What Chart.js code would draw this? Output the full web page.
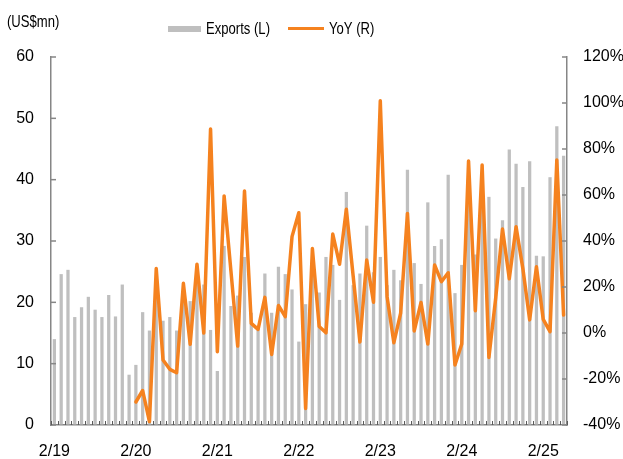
<!DOCTYPE html>
<html><head><meta charset="utf-8">
<script src="https://cdn.jsdelivr.net/npm/chart.js@4/dist/chart.umd.min.js"></script>
<style>html,body{margin:0;padding:0;background:#fff;}#wrap{width:623px;height:459px;}</style>
</head><body><div id="wrap"><canvas id="c" width="623" height="459"></canvas></div>
<script>
const categories = [
 "2/19","3/19","4/19","5/19","6/19","7/19","8/19","9/19","10/19","11/19","12/19",
 "1/20","2/20","3/20","4/20","5/20","6/20","7/20","8/20","9/20","10/20","11/20","12/20",
 "1/21","2/21","3/21","4/21","5/21","6/21","7/21","8/21","9/21","10/21","11/21","12/21",
 "1/22","2/22","3/22","4/22","5/22","6/22","7/22","8/22","9/22","10/22","11/22","12/22",
 "1/23","2/23","3/23","4/23","5/23","6/23","7/23","8/23","9/23","10/23","11/23","12/23",
 "1/24","2/24","3/24","4/24","5/24","6/24","7/24","8/24","9/24","10/24","11/24","12/24",
 "1/25","2/25","3/25","4/25","5/25"];
const exportsUSDmn = [
 14.0,24.6,25.3,17.6,19.2,20.9,18.8,17.6,21.2,17.7,22.9,8.2,
 9.8,18.4,15.4,22.5,17.0,17.6,15.4,21.4,20.2,23.0,22.9,15.5,
 8.8,29.2,19.4,21.1,27.4,18.3,15.6,24.7,18.3,25.8,24.6,22.1,
 13.6,19.7,26.2,21.6,27.4,26.1,20.4,38.0,22.8,24.7,32.5,24.9,
 27.4,22.8,25.3,23.6,41.6,26.4,23.0,36.3,29.2,30.3,40.8,21.5,
 26.1,39.9,27.8,40.8,37.2,30.4,33.4,44.9,42.6,38.8,43.0,27.6,
 27.5,40.4,48.7,43.9];
const yoyPct = [
 null,null,null,null,null,null,null,null,null,null,null,null,
 -30,-25,-38.5,28,-11.7,-15.8,-17.3,21.6,-4.9,29.9,0,88.7,
 -8.1,59.6,27,-5.7,61.7,4.2,1.6,15.5,-9.3,12.0,7.1,41.9,
 52.3,-32.8,36.7,2.8,0.1,43,29.9,53.8,24.9,-3.9,31.7,13.4,
 101,15.8,-4.2,8.6,52.0,0.9,13.3,-4.8,29.6,22.3,26.2,-13.9,
 -4.8,74.8,9.7,73.0,-10.6,15.2,45.2,23.6,46.2,28,5.7,28.8,
 5.9,0.6,75.2,7.8];
const xTickLabels = ["2/19","2/20","2/21","2/22","2/23","2/24","2/25"];
const unitLabel = "(US$mn)";
const seriesNames = ["Exports (L)", "YoY (R)"];

const AXIS = '#868686';
const BAR = '#bfbfbf';
const LINE = '#F5821F';
const tickFont = {family: "'Liberation Sans', Arial, sans-serif", size: 16};
const narrowFont = '17px "Liberation Sans", Arial, sans-serif';

function narrowText(ctx, txt, x, y) {
  ctx.save();
  ctx.translate(x, y);
  ctx.scale(0.77, 1);
  ctx.fillText(txt, 0, 0);
  ctx.restore();
}

const overlay = {
  id: 'overlay',
  afterDraw(chart) {
    const {ctx, chartArea: a, scales} = chart;
    ctx.save();
    ctx.strokeStyle = AXIS; ctx.lineWidth = 1.5;
    scales.y.ticks.forEach(t => {
      const py = scales.y.getPixelForValue(t.value);
      ctx.beginPath(); ctx.moveTo(a.left, py); ctx.lineTo(a.left + 5, py); ctx.stroke();
    });
    scales.y1.ticks.forEach(t => {
      const py = scales.y1.getPixelForValue(t.value);
      ctx.beginPath(); ctx.moveTo(a.right - 5, py); ctx.lineTo(a.right, py); ctx.stroke();
    });
    const x = scales.x;
    const step = x.getPixelForValue(1) - x.getPixelForValue(0);
    ctx.strokeStyle = '#5a5a5a'; ctx.lineWidth = 1;
    for (let i = 0; i <= categories.length; i++) {
      const px = Math.round(x.getPixelForValue(0) - step / 2 + i * step) + 0.5;
      ctx.beginPath(); ctx.moveTo(px, a.bottom); ctx.lineTo(px, a.bottom - 4); ctx.stroke();
    }
    // title & legend
    ctx.fillStyle = '#000';
    ctx.font = narrowFont;
    ctx.textBaseline = 'middle'; ctx.textAlign = 'left';
    narrowText(ctx, unitLabel, 7, 22.5);
    ctx.fillStyle = BAR; ctx.fillRect(168, 26, 33, 6);
    ctx.fillStyle = '#000'; narrowText(ctx, seriesNames[0], 206, 29.5);
    ctx.strokeStyle = LINE; ctx.lineWidth = 3;
    ctx.beginPath(); ctx.moveTo(288, 28.5); ctx.lineTo(324, 28.5); ctx.stroke();
    ctx.fillStyle = '#000'; narrowText(ctx, seriesNames[1], 329, 29.5);
    ctx.restore();
  }
};

new Chart(document.getElementById('c'), {
  type: 'bar',
  data: {
    labels: categories,
    datasets: [
      {type: 'line', label: seriesNames[1], data: yoyPct, yAxisID: 'y1', borderColor: LINE,
       borderWidth: 3.5, pointRadius: 0, tension: 0, order: 1, spanGaps: false,
       borderJoinStyle: 'round', borderCapStyle: 'round'},
      {type: 'bar', label: seriesNames[0], data: exportsUSDmn, yAxisID: 'y', backgroundColor: BAR,
       barPercentage: 0.48, categoryPercentage: 1, order: 2}
    ]
  },
  options: {
    responsive: false, devicePixelRatio: 1, animation: false,
    layout: {padding: {top: 57, left: 0, right: 0, bottom: 0}},
    plugins: {legend: {display: false}, tooltip: {enabled: false}},
    scales: {
      x: {
        grid: {drawOnChartArea: false, drawTicks: false},
        border: {color: AXIS, width: 1.5},
        ticks: {autoSkip: false, maxRotation: 0, minRotation: 0, padding: 17, color: '#000', font: tickFont,
          callback: (v, i) => xTickLabels.includes(categories[i]) ? categories[i] : ''},
        afterFit(s) { s.height = 34; }
      },
      y: {
        position: 'left', min: 0, max: 60,
        grid: {drawOnChartArea: false, drawTicks: false},
        border: {color: AXIS, width: 1.5},
        ticks: {stepSize: 10, padding: 17, color: '#000', font: tickFont},
        afterFit(s) { s.width = 51; }
      },
      y1: {
        position: 'right', min: -40, max: 120,
        grid: {drawOnChartArea: false, drawTicks: false},
        border: {color: AXIS, width: 1.5},
        ticks: {stepSize: 20, padding: 16, color: '#000', font: tickFont, callback: v => v + '%'},
        afterFit(s) { s.width = 56; }
      }
    }
  },
  plugins: [overlay]
});
</script>
</body></html>
